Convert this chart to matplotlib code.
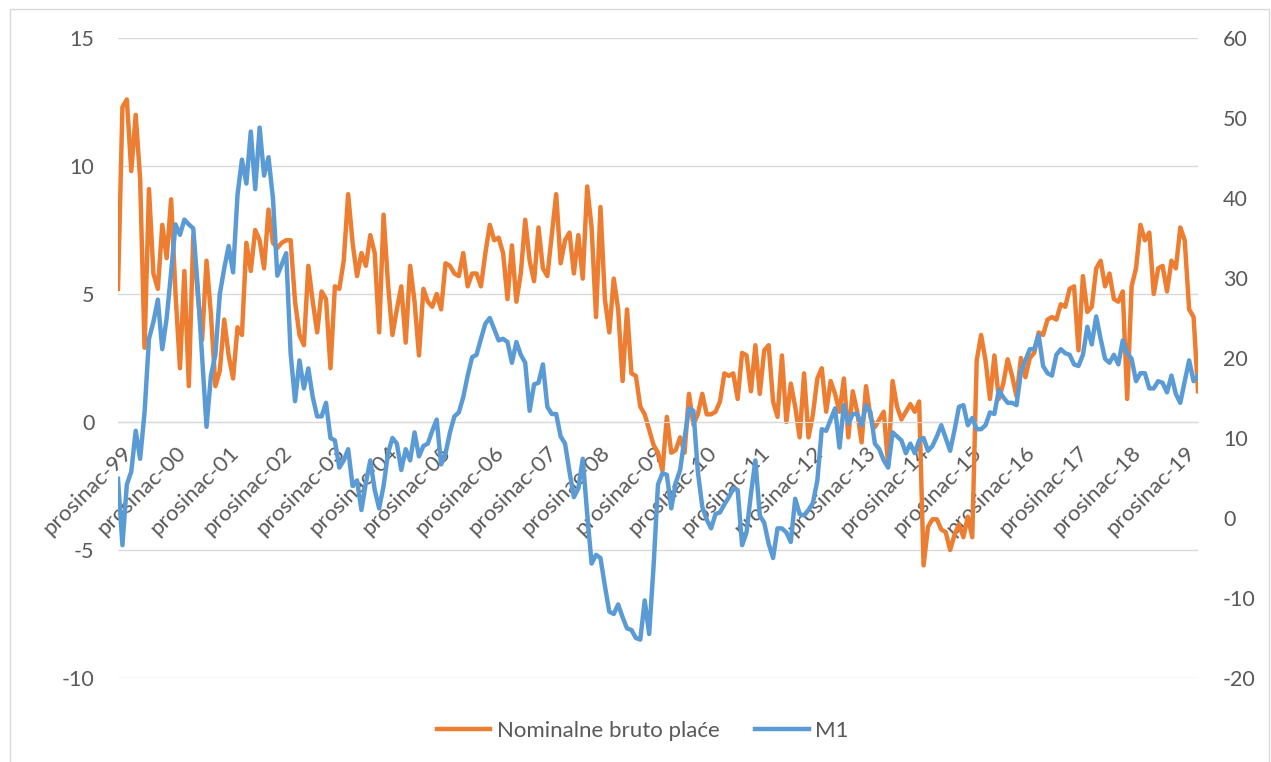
import matplotlib
matplotlib.use("Agg")
import matplotlib.pyplot as plt
from matplotlib.patches import Rectangle
from matplotlib.transforms import ScaledTranslation

plt.rcParams["font.family"] = ["Lato", "DejaVu Sans"]
plt.rcParams["axes.unicode_minus"] = False

# monthly series, prosinac 1999 .. travanj 2020
place = [
    5.2, 12.3, 12.6, 9.8, 12.0, 9.5, 2.9, 9.1, 5.8, 5.2,
    7.7, 6.4, 8.7, 5.0, 2.1, 5.9, 1.4, 7.3, 5.0, 3.2,
    6.3, 4.2, 1.4, 2.0, 4.0, 2.6, 1.7, 3.7, 3.4, 7.0,
    5.9, 7.5, 7.1, 6.0, 8.3, 7.0, 6.8, 7.0, 7.1, 7.1,
    4.7, 3.4, 3.0, 6.1, 4.7, 3.5, 5.1, 4.8, 2.1, 5.3,
    5.2, 6.3, 8.9, 7.0, 5.7, 6.6, 6.1, 7.3, 6.6, 3.5,
    8.1, 5.4, 3.4, 4.4, 5.3, 3.1, 6.1, 4.7, 2.6, 5.2,
    4.7, 4.5, 5.0, 4.4, 6.2, 6.1, 5.8, 5.7, 6.6, 5.3,
    5.8, 5.8, 5.3, 6.6, 7.7, 7.1, 7.2, 6.6, 4.8, 6.9,
    4.7, 5.8, 7.9, 6.3, 5.5, 7.6, 6.0, 5.7, 7.3, 8.9,
    6.2, 7.1, 7.4, 5.8, 7.3, 5.6, 9.2, 7.6, 4.1, 8.4,
    4.8, 3.5, 5.6, 4.4, 1.6, 4.4, 1.9, 1.8, 0.6, 0.3,
    -0.3, -0.9, -1.2, -1.9, 0.2, -1.2, -1.1, -0.6, -1.2, 1.1,
    -0.1, 0.3, 1.1, 0.3, 0.3, 0.4, 0.8, 1.9, 1.8, 1.9,
    0.9, 2.7, 2.6, 1.2, 3.0, 1.1, 2.8, 3.0, 0.8, 0.2,
    2.6, 0.0, 1.5, 0.6, -0.6, 1.9, -0.6, 0.3, 1.7, 2.1,
    0.4, 1.6, 1.1, 0.4, 1.7, -0.6, 1.2, 0.4, -0.8, 1.4,
    0.2, -0.2, 0.1, 0.4, -1.7, 1.6, 0.6, 0.1, 0.4, 0.7,
    0.4, 0.8, -5.6, -4.1, -3.8, -3.8, -4.2, -4.3, -5.0, -4.4,
    -4.0, -4.5, -3.7, -4.5, 2.4, 3.4, 2.4, 0.9, 2.6, 0.9,
    1.5, 2.45, 1.8, 1.0, 2.5, 1.75, 2.5, 2.7, 3.5, 3.4,
    4.0, 4.1, 4.0, 4.6, 4.5, 5.2, 5.3, 2.8, 5.7, 4.3,
    4.5, 6.0, 6.3, 5.3, 5.8, 4.8, 4.7, 5.1, 0.9, 5.3,
    6.0, 7.7, 7.1, 7.4, 5.0, 6.0, 6.1, 5.1, 6.3, 6.0,
    7.6, 7.1, 4.4, 4.1, 1.2,
]

m1 = [
    4.9, -3.4, 4.2, 5.8, 10.9, 7.4, 13.2, 22.4, 24.5, 27.3,
    21.1, 25.0, 30.7, 36.7, 35.4, 37.3, 36.7, 36.2, 28.9, 20.1,
    11.4, 17.8, 20.4, 28.0, 31.2, 34.0, 30.7, 40.4, 44.8, 41.8,
    48.3, 41.1, 48.8, 42.8, 45.1, 40.0, 30.3, 31.7, 33.1, 20.6,
    14.6, 19.7, 16.2, 18.7, 15.1, 12.7, 12.7, 14.4, 10.0, 9.7,
    6.3, 7.2, 8.6, 4.0, 4.7, 1.0, 4.4, 7.2, 3.5, 1.2,
    4.0, 8.1, 10.0, 9.3, 6.0, 8.6, 7.2, 10.7, 7.7, 9.0,
    9.3, 10.9, 12.3, 6.7, 8.1, 10.7, 12.7, 13.2, 15.1, 17.8,
    20.1, 20.4, 22.4, 24.3, 25.0, 23.6, 22.2, 22.4, 22.0, 19.4,
    22.0, 20.4, 19.4, 13.4, 16.7, 16.9, 19.2, 13.9, 13.0, 13.0,
    10.2, 9.3, 5.8, 2.6, 3.7, 7.4, 0.5, -5.7, -4.6, -5.0,
    -8.5, -11.7, -12.0, -10.8, -12.4, -13.8, -14.0, -15.0, -15.2, -10.3,
    -14.5, -6.0, 4.2, 5.6, 5.4, 1.2, 4.4, 6.0, 10.0, 13.7,
    13.4, 5.8, 1.4, -0.2, -1.3, 0.5, 0.7, 1.7, 2.6, 3.7,
    3.5, -3.4, -1.8, 3.0, 7.2, 0.3, -0.6, -3.2, -5.0, -1.3,
    -1.3, -1.8, -3.0, 2.4, 0.5, 0.3, 1.0, 1.9, 4.7, 11.1,
    10.9, 12.3, 13.7, 8.8, 14.1, 11.8, 13.0, 13.0, 11.6, 14.1,
    13.2, 9.3, 8.6, 7.2, 6.3, 10.7, 10.2, 9.7, 8.1, 9.3,
    8.1, 9.7, 10.0, 8.4, 9.0, 10.2, 11.6, 10.0, 8.4, 11.0,
    13.9, 14.1, 11.6, 12.5, 11.1, 11.1, 11.6, 13.2, 13.0, 16.0,
    15.1, 14.4, 14.4, 14.1, 18.3, 19.7, 21.1, 21.1, 22.9, 19.0,
    18.1, 17.8, 20.4, 21.1, 20.6, 20.4, 19.2, 19.0, 20.4, 23.9,
    21.7, 25.2, 22.4, 19.9, 19.4, 20.4, 19.2, 22.2, 20.6, 19.9,
    17.1, 18.1, 18.1, 16.2, 16.2, 17.1, 16.9, 15.7, 17.8, 15.5,
    14.4, 17.1, 19.7, 17.1, 17.8,
]

tick_labels = ["prosinac-%02d" % (y % 100) for y in range(1999, 2020)]

ORANGE = "#ED7D31"
BLUE = "#5B9BD5"
GRID = "#D9D9D9"
TXT = "#595959"
FS = 15.5

n = len(place)
x = list(range(n))

fig = plt.figure(figsize=(12.71, 7.62), dpi=100)
fig.patches.append(Rectangle((10 / 1271, -0.01), 1259 / 1271, 1 - 9 / 762 + 0.01,
                             transform=fig.transFigure, fill=False,
                             edgecolor=GRID, lw=1))
ax = fig.add_axes([118 / 1271, 1 - 678 / 762, 1080 / 1271, 640 / 762])
ax2 = ax.twinx()

l1, = ax.plot(x, place, color=ORANGE, lw=3.2, solid_joinstyle="round",
              label="Nominalne bruto plaće")
l2, = ax2.plot(x, m1, color=BLUE, lw=3.2, solid_joinstyle="round", label="M1")

ax.set_xlim(0, n - 1)
ax.set_ylim(-10, 15)
ax.set_yticks(range(-10, 16, 5))
ax2.set_ylim(-20, 60)
ax2.set_yticks(range(-20, 61, 10))

ax.grid(axis="y", color=GRID, lw=1)
ax.set_axisbelow(True)
for a in (ax, ax2):
    for s in ("top", "left", "right", "bottom"):
        a.spines[s].set_visible(False)
ax.spines["bottom"].set_visible(True)
ax.spines["bottom"].set_position(("data", 0))
ax.spines["bottom"].set_color(GRID)

ticks = list(range(0, n, 12))
ax.set_xticks(ticks)
ax.set_xticklabels(tick_labels[:len(ticks)], rotation=45, ha="right",
                   va="top", rotation_mode="anchor")
ax.tick_params(axis="x", length=0, pad=0, labelsize=FS + 0.5, colors=TXT)
off = ScaledTranslation(4 / 100, -20 / 100, fig.dpi_scale_trans)
for lab in ax.get_xticklabels():
    lab.set_transform(lab.get_transform() + off)

ax.tick_params(axis="y", length=0, pad=17, labelsize=FS, colors=TXT)
ax2.tick_params(axis="y", length=0, pad=18, labelsize=FS, colors=TXT)
for lab in ax2.get_yticklabels():
    lab.set_ha("left")

fig.legend(handles=[l1, l2], loc="center", bbox_to_anchor=(643 / 1271, 1 - 731 / 762),
           ncol=2, frameon=False, fontsize=16, labelcolor=TXT,
           handlelength=2.4, handletextpad=0.3, columnspacing=1.6)

fig.savefig("out.png", dpi=100)
